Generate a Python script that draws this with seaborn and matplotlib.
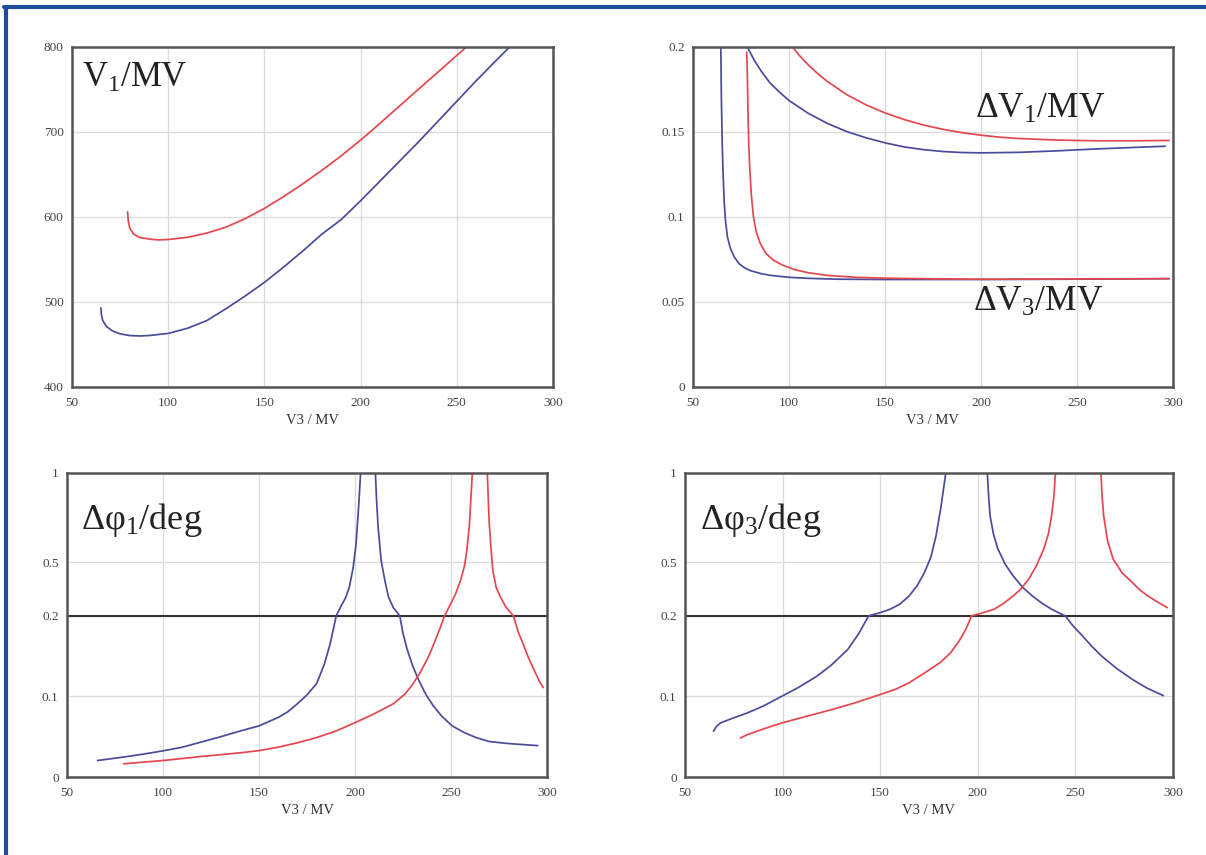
import numpy as np
import pandas as pd
import matplotlib
matplotlib.use('Agg')
import matplotlib.pyplot as plt
import seaborn as sns
from matplotlib.lines import Line2D

# values, x = V3 / MV

# V1 / MV
v1_red_x = [78.9, 79.2, 80, 82, 85, 90, 95, 100, 110, 120, 130, 140, 150, 160, 170, 180, 190, 200, 205,
            210, 220, 230, 240, 250, 255]
v1_red_y = [606, 596, 587, 580, 576, 574, 573, 573.5, 576, 581, 588, 598, 610, 624, 639, 655, 672, 690.5, 700,
            710, 730, 750, 770, 790, 800]
v1_blue_x = [65, 65.3, 66, 68, 71, 75, 80, 85, 90, 100, 110, 120, 130, 140, 150, 160, 170, 180, 190, 200,
             210, 220, 230, 240, 250, 260, 270, 277.5]
v1_blue_y = [493, 485, 478, 471, 466, 462.5, 460.5, 460, 460.5, 463, 469, 478, 492, 507, 523, 541, 560, 580, 597, 619,
             642, 665, 688, 712, 736, 760, 783, 800]

# dV1 / MV and dV3 / MV
dv3_blue_x = [64.5, 64.8, 65.2, 65.7, 66.3, 67, 68, 69.5, 71.5, 74, 77, 80, 85, 90, 100, 110, 125, 150, 200, 250, 298]
dv3_blue_y = [0.2, 0.17, 0.145, 0.125, 0.108, 0.097, 0.088, 0.0815, 0.0765, 0.0725, 0.0700, 0.0684, 0.0668, 0.0657,
              0.0645, 0.0639, 0.0634, 0.0632, 0.0632, 0.0634, 0.0637]
dv3_red_x = [78.0, 78.3, 78.6, 79, 79.6, 80.4, 81.5, 83, 85, 88, 92, 97, 103, 110, 120, 135, 150, 175, 200, 250, 298]
dv3_red_y = [0.197, 0.185, 0.165, 0.145, 0.128, 0.113, 0.1, 0.091, 0.0845, 0.0785, 0.0745, 0.0715, 0.069, 0.0672,
             0.0656, 0.0645, 0.0640, 0.0636, 0.0634, 0.0635, 0.0637]
dv1_blue_x = [78.3, 82, 86, 90, 95, 100, 110, 120, 130, 140, 150, 160, 170, 180, 190, 200, 220, 240, 260, 280, 296]
dv1_blue_y = [0.2, 0.192, 0.185, 0.179, 0.1735, 0.1685, 0.161, 0.155, 0.1503, 0.1466, 0.1436, 0.1412, 0.1396,
              0.1385, 0.1379, 0.1377, 0.1380, 0.1389, 0.1400, 0.1409, 0.1416]
dv1_red_x = [101.9, 105, 110, 115, 120, 130, 140, 150, 160, 170, 180, 190, 200, 210, 220, 240, 260, 280, 298]
dv1_red_y = [0.2, 0.1955, 0.1895, 0.1843, 0.1797, 0.172, 0.1660, 0.1612, 0.1573, 0.1541, 0.1516, 0.1496, 0.1481,
             0.1469, 0.1461, 0.1452, 0.1448, 0.1448, 0.1450]

# dphi1 / deg, two branches each side of the peak
dp1_blue_left_x = [65.9, 80, 90, 100, 110, 120, 130, 140, 150, 160, 165, 170, 175, 180, 184, 187, 190.2,
                   192, 195, 197, 199, 200.5, 201.8, 202.9]
dp1_blue_left_y = [0.0205, 0.025, 0.0285, 0.0325, 0.037, 0.0435, 0.050, 0.057, 0.0635, 0.074, 0.081, 0.091, 0.102,
                   0.116, 0.14, 0.165, 0.2, 0.24, 0.3, 0.36, 0.47, 0.6, 0.8, 1.0]
dp1_blue_right_x = [210.6, 211.2, 212, 213.6, 215.5, 217.4, 220, 223.3, 225, 227.2, 230, 233, 237, 240.8, 245,
                    250.5, 257, 263, 270, 280, 295.2]
dp1_blue_right_y = [1.0, 0.85, 0.7, 0.51, 0.4, 0.306, 0.245, 0.2, 0.178, 0.158, 0.138, 0.121, 0.102, 0.0882, 0.076,
                    0.0636, 0.055, 0.049, 0.044, 0.0415, 0.039]
dp1_red_left_x = [79.5, 90, 100, 120, 140, 150, 160, 170, 180, 190, 200, 210, 220, 226, 230, 234, 238, 241, 244,
                  246.6, 249, 252.4, 255, 257, 258.2, 259.5, 260.3, 261.1]
dp1_red_left_y = [0.0164, 0.0185, 0.0205, 0.0255, 0.030, 0.0328, 0.037, 0.0425, 0.049, 0.057, 0.0675, 0.0785,
                  0.091, 0.103, 0.115, 0.13, 0.148, 0.165, 0.183, 0.2, 0.25, 0.324, 0.4, 0.48, 0.565, 0.7, 0.85, 1.0]
dp1_red_right_x = [268.9, 269.4, 269.9, 270.8, 271.8, 273.5, 275.7, 278.5, 282.5, 285, 287.4, 290, 293.2, 296, 298]
dp1_red_right_y = [1.0, 0.85, 0.72, 0.58, 0.45, 0.36, 0.306, 0.25, 0.2, 0.18, 0.166, 0.15, 0.133, 0.119, 0.111]

# dphi3 / deg
dp3_blue_left_x = [64.6, 66, 68.2, 75, 82, 90, 99.7, 108, 117.5, 125, 133.3, 139, 144.1, 150, 155, 160, 164.8,
                   169, 172.7, 176, 178.6, 181, 183.6]
dp3_blue_left_y = [0.0568, 0.0625, 0.0672, 0.0735, 0.0796, 0.088, 0.1004, 0.111, 0.125, 0.139, 0.158, 0.178, 0.2,
                   0.218, 0.237, 0.265, 0.311, 0.37, 0.443, 0.53, 0.648, 0.8, 1.0]
dp3_blue_right_x = [204.9, 205.5, 206.3, 208, 210.2, 214, 218.1, 223, 228, 233, 237.9, 241.5, 244.8, 249, 253.7,
                    258.5, 263.5, 271, 279.3, 287, 295.1]
dp3_blue_right_y = [1.0, 0.88, 0.76, 0.66, 0.577, 0.49, 0.424, 0.36, 0.311, 0.27, 0.237, 0.217, 0.2, 0.187, 0.175,
                    0.162, 0.150, 0.135, 0.121, 0.11, 0.101]
dp3_red_left_x = [78.4, 82, 90, 99.7, 112, 125.4, 137, 150, 158, 164.8, 172, 180.6, 186, 190.5, 194, 196.8, 202,
                  208.3, 213, 218.1, 222, 226, 230, 233.9, 236.2, 237.8, 239, 239.8]
dp3_red_left_y = [0.0485, 0.0527, 0.0595, 0.0672, 0.0752, 0.0838, 0.092, 0.1024, 0.109, 0.117, 0.128, 0.1418,
                  0.154, 0.169, 0.184, 0.2, 0.215, 0.237, 0.268, 0.311, 0.35, 0.404, 0.48, 0.577, 0.66, 0.76, 0.87, 1.0]
dp3_red_right_x = [263.1, 263.7, 264.5, 266.5, 269.4, 274, 279.3, 283, 287.2, 292, 297.1]
dp3_red_right_y = [1.0, 0.87, 0.76, 0.62, 0.517, 0.44, 0.386, 0.345, 0.311, 0.278, 0.246]

x_ticks = [50, 100, 150, 200, 250, 300]
v1_ticks = [400, 500, 600, 700, 800]
dv_ticks = [0, 0.05, 0.1, 0.15, 0.2]
dv_labels = ['0', '0.05', '0.1', '0.15', '0.2']
dp_ticks = [0, 0.1, 0.2, 0.5, 1]
dp_labels = ['0', '0.1', '0.2', '0.5', '1']

RED = '#e4474d'
BLUE = '#4b4b9c'

sns.set_style('white')
plt.rcParams['font.family'] = ['Liberation Serif', 'DejaVu Serif']
plt.rcParams['mathtext.fontset'] = 'custom'
plt.rcParams['mathtext.rm'] = 'Liberation Serif'
plt.rcParams['mathtext.it'] = 'Liberation Serif:italic'


def make_df(parts):
    rows = []
    for i, (xs, ys, color) in enumerate(parts):
        for xv, yv in zip(xs, ys):
            rows.append({'x': xv, 'y': yv, 'curve': color, 'branch': i})
    return pd.DataFrame(rows)


def style_ax(ax, yticks, ylabels, ylim):
    ax.set_xlim(50, 300)
    ax.set_ylim(*ylim)
    ax.set_xticks(x_ticks)
    ax.set_xticklabels([str(t) for t in x_ticks])
    ax.set_yticks(yticks)
    ax.set_yticklabels(ylabels)
    ax.grid(True, color='#dcdcdc', linewidth=1.0)
    ax.set_axisbelow(True)
    for sp in ax.spines.values():
        sp.set_visible(True)
        sp.set_color('#555555')
        sp.set_linewidth(1.8)
    ax.tick_params(length=0, labelsize=9.5, labelcolor='#444444')
    ax.tick_params(axis='x', pad=7)
    ax.tick_params(axis='y', pad=6)
    ax.set_xlabel('V3 / MV', fontsize=10.5, color='#333333', labelpad=4)
    ax.set_ylabel('')


def draw(ax, parts):
    df = make_df(parts)
    sns.lineplot(data=df, x='x', y='y', hue='curve', units='branch', estimator=None,
                 sort=False, palette={'red': RED, 'blue': BLUE}, legend=False,
                 linewidth=1.25, ax=ax)


fig = plt.figure(figsize=(12.06, 8.55), dpi=100)
ax1 = fig.add_axes([0.0597, 0.5474, 0.3988, 0.3977])
ax2 = fig.add_axes([0.5746, 0.5474, 0.3980, 0.3977])
ax3 = fig.add_axes([0.0556, 0.0912, 0.3980, 0.3556])
ax4 = fig.add_axes([0.5680, 0.0912, 0.4046, 0.3556])

# top left
draw(ax1, [(v1_red_x, v1_red_y, 'red'), (v1_blue_x, v1_blue_y, 'blue')])
style_ax(ax1, v1_ticks, [str(t) for t in v1_ticks], (400, 800))
ax1.text(0.02, 0.955, r'V$_\mathrm{1}$/MV', transform=ax1.transAxes, fontsize=25,
         va='top', ha='left', color='#222222')

# top right
draw(ax2, [(dv3_blue_x, dv3_blue_y, 'blue'), (dv3_red_x, dv3_red_y, 'red'),
           (dv1_blue_x, dv1_blue_y, 'blue'), (dv1_red_x, dv1_red_y, 'red')])
style_ax(ax2, dv_ticks, dv_labels, (0, 0.2))
ax2.text(197, 0.163, r'$\Delta$V$_\mathrm{1}$/MV', fontsize=25.5, va='center', ha='left', color='#222222')
ax2.text(196, 0.050, r'$\Delta$V$_\mathrm{3}$/MV', fontsize=25.5, va='center', ha='left', color='#222222')


# bottom: piecewise linear y scale, break at 0.2
def fwd(y):
    return np.interp(y, [0, 0.2, 1], [0, 0.53, 1])


def inv(d):
    return np.interp(d, [0, 0.53, 1], [0, 0.2, 1])


draw(ax3, [(dp1_blue_left_x, dp1_blue_left_y, 'blue'), (dp1_blue_right_x, dp1_blue_right_y, 'blue'),
           (dp1_red_left_x, dp1_red_left_y, 'red'), (dp1_red_right_x, dp1_red_right_y, 'red')])
draw(ax4, [(dp3_blue_left_x, dp3_blue_left_y, 'blue'), (dp3_blue_right_x, dp3_blue_right_y, 'blue'),
           (dp3_red_left_x, dp3_red_left_y, 'red'), (dp3_red_right_x, dp3_red_right_y, 'red')])
for ax, lab in [(ax3, r'$\Delta$φ$_\mathrm{1}$/deg'), (ax4, r'$\Delta$φ$_\mathrm{3}$/deg')]:
    ax.set_yscale('function', functions=(fwd, inv))
    style_ax(ax, dp_ticks, dp_labels, (0, 1))
    ax.axhline(0.2, color='#333333', linewidth=1.5, zorder=1.5)
    ax.text(0.03, 0.845, lab, transform=ax.transAxes, fontsize=26,
            va='center', ha='left', color='#222222')

# blue frame on the left and top edges
fig.add_artist(Line2D([0.005, 0.005], [0, 0.992], transform=fig.transFigure,
                      color='#1f4f9c', linewidth=3))
fig.add_artist(Line2D([0.003, 1.0], [0.992, 0.992], transform=fig.transFigure,
                      color='#1f4f9c', linewidth=3))

fig.savefig('out.png', dpi=100)
